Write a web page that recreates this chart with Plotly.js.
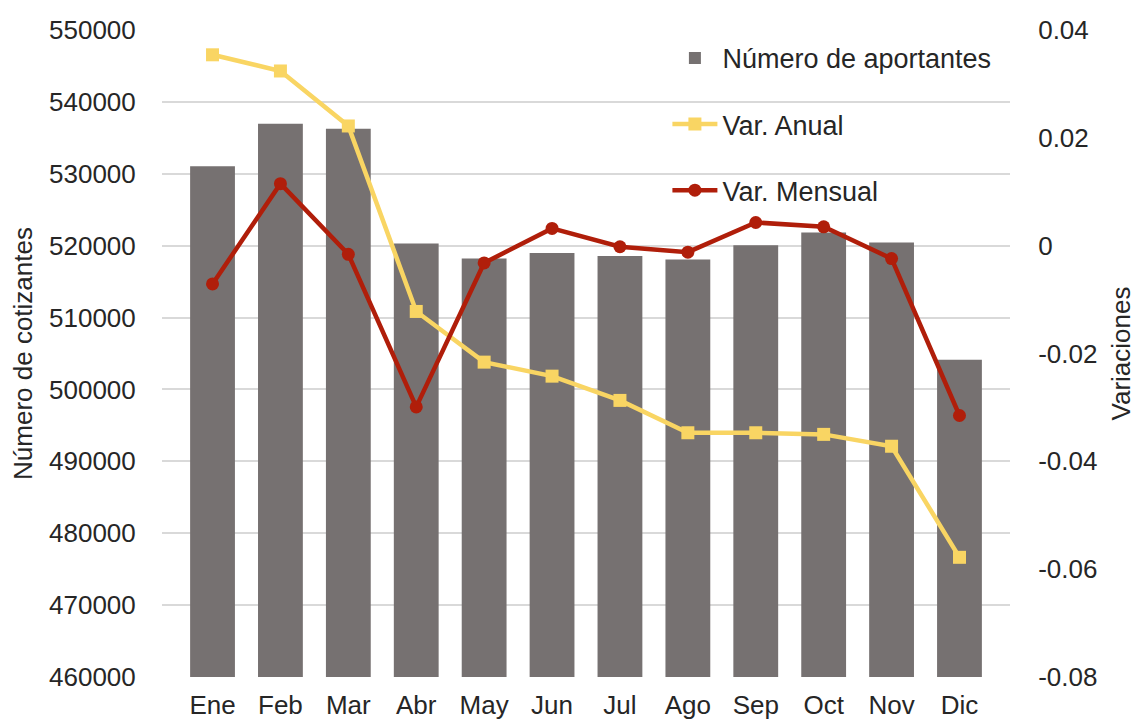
<!DOCTYPE html>
<html>
<head>
<meta charset="utf-8">
<script src="https://cdn.plot.ly/plotly-3.0.1.min.js"></script>
<style>html,body{margin:0;padding:0;background:#fff;}#chart{width:1136px;height:722px;}</style>
</head>
<body>
<div id="chart"></div>
<script>
const months = ["Ene","Feb","Mar","Abr","May","Jun","Jul","Ago","Sep","Oct","Nov","Dic"];
const aportantes = [531050, 536950, 536250, 520290, 518200, 518990, 518570, 518060, 520060, 521820, 520430, 504130];
const varAnual = [0.0354, 0.0324, 0.0222, -0.0122, -0.0216, -0.0242, -0.0287, -0.0347, -0.0347, -0.0350, -0.0372, -0.0578];
const varMensual = [-0.0071, 0.0115, -0.0016, -0.0299, -0.0032, 0.0032, -0.0002, -0.0012, 0.0043, 0.0035, -0.0024, -0.0315];
const leftTicks = [460000,470000,480000,490000,500000,510000,520000,530000,540000,550000];
const rightTicks = [-0.08,-0.06,-0.04,-0.02,0,0.02,0.04];
const rightTickText = ["-0.08","-0.06","-0.04","-0.02","0","0.02","0.04"];

const FONT = "Liberation Sans, Arial, sans-serif";
const traces = [
  {type:"bar", x:months, y:aportantes, name:"Número de aportantes", legendgroup:"a",
   marker:{color:"#767171"}, yaxis:"y"},
  {type:"scatter", mode:"lines+markers", x:months, y:varAnual, name:"Var. Anual", legendgroup:"b",
   line:{color:"#F9D563", width:4.5}, marker:{symbol:"square", size:13, color:"#F9D563"}, yaxis:"y2"},
  {type:"scatter", mode:"lines+markers", x:months, y:varMensual, name:"Var. Mensual", legendgroup:"c",
   line:{color:"#B01E0A", width:4.5}, marker:{symbol:"circle", size:13, color:"#B01E0A"}, yaxis:"y2"}
];
const layout = {
  width:1136, height:722,
  margin:{l:162, r:126, t:30, b:45},
  paper_bgcolor:"#fff", plot_bgcolor:"#fff",
  font:{family:FONT, size:26, color:"#262626"},
  bargap:0.34,
  showlegend:true,
  legend:{x:0.596, xanchor:"left", y:0.994, yanchor:"top", traceorder:"grouped", tracegroupgap:28,
          itemwidth:45,
          bgcolor:"rgba(0,0,0,0)", font:{size:27, color:"#262626"}},
  xaxis:{type:"category", showgrid:false, zeroline:false, showline:false,
         ticks:"outside", ticklen:5, tickcolor:"rgba(0,0,0,0)",
         tickfont:{size:26, color:"#262626"}, fixedrange:true},
  yaxis:{range:[460000,550000], tickvals:leftTicks, ticktext:leftTicks.map(String),
         showgrid:true, gridcolor:"#D9D9D9", gridwidth:2, zeroline:false, showline:false,
         ticks:"outside", ticklen:20, tickcolor:"rgba(0,0,0,0)",
         tickfont:{size:26, color:"#262626"},
         title:{text:"Número de cotizantes", font:{size:26, color:"#262626"}, standoff:8}},
  yaxis2:{overlaying:"y", side:"right", range:[-0.08,0.04], tickvals:rightTicks, ticktext:rightTickText,
          showgrid:false, zeroline:false, showline:false,
          ticks:"outside", ticklen:22, tickcolor:"rgba(0,0,0,0)",
          tickfont:{size:26, color:"#262626"},
          title:{text:"Variaciones", font:{size:26, color:"#262626"}, standoff:18}}
};
Plotly.newPlot("chart", traces, layout, {displayModeBar:false, staticPlot:true});
</script>
</body>
</html>
